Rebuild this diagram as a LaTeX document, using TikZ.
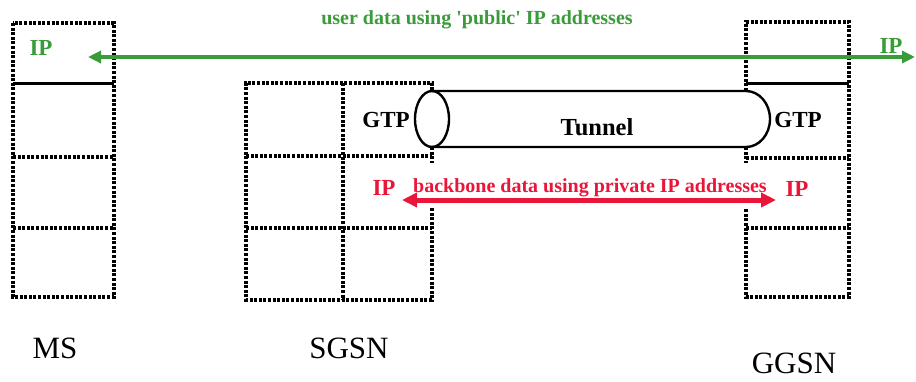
\documentclass[tikz,border=0pt]{standalone}
\usepackage{fontspec}
\setmainfont{Liberation Serif}
\usetikzlibrary{arrows.meta}
\definecolor{userGreen}{RGB}{58,155,58}
\definecolor{bbRed}{RGB}{234,22,58}

\begin{document}
\begin{tikzpicture}[
  x=1pt, y=-1pt,
  dotbox/.style={line width=3.2pt, dash pattern=on 3pt off 1.6pt},
  solidsep/.style={line width=3pt},
  tunnelline/.style={line width=2.4pt},
  lbl/.style={inner sep=0pt, anchor=base},
  entity/.style={lbl, font=\fontsize{31}{36}\selectfont},
  smallbold/.style={lbl, font=\fontsize{20}{24}\selectfont\bfseries},
  layerbold/.style={lbl, font=\fontsize{23}{27}\selectfont\bfseries}
]
  \useasboundingbox (0,0) rectangle (916,381);

  % MS stack
  \draw[dotbox] (13,23) rectangle (114,297);
  \draw[solidsep] (13,83) -- (114,83);
  \draw[dotbox] (13,157) -- (114,157);
  \draw[dotbox] (13,228) -- (114,228);

  % SGSN stack
  \draw[dotbox] (432,208) -- (432,300) -- (246,300) -- (246,83) -- (432,83) -- (432,91);
  \draw[dotbox] (432,147) -- (432,163);
  \draw[dotbox] (343,83) -- (343,300);
  \draw[dotbox] (246,156) -- (432,156);
  \draw[dotbox] (246,228) -- (432,228);

  % GGSN stack
  \draw[dotbox] (746,91) -- (746,22) -- (849,22) -- (849,297) -- (746,297) -- (746,208);
  \draw[dotbox] (746,147) -- (746,163);
  \draw[solidsep] (746,83) -- (849,83);
  \draw[dotbox] (746,158) -- (849,158);
  \draw[dotbox] (746,228) -- (849,228);

  % GTP tunnel
  \draw[tunnelline, fill=white] (432,119) ellipse (17 and 28);
  \draw[tunnelline] (432,91) -- (746,91) arc (-90:90:24 and 28) -- (432,147);

  % end points of the two flows
  \coordinate (userL) at (88,57);
  \coordinate (userR) at (915,57);
  \coordinate (bbL) at (402,200);
  \coordinate (bbR) at (776,200);

  % user data (green)
  \draw[userGreen, line width=3.6pt,
    {Triangle[length=13pt,width=12pt]}-{Triangle[length=13pt,width=12pt]}] (userL) -- (userR);
  \node[smallbold, userGreen] (usertxt) at (477,24)
    {user data using \textquotesingle public\textquotesingle\ IP addresses};
  \node[layerbold, userGreen] (ipMS) at (41,55) {IP};
  \node[layerbold, userGreen] (ipGGSN) at (891,53) {IP};

  % backbone data (red)
  \draw[bbRed, line width=5pt,
    {Triangle[length=15pt,width=14pt]}-{Triangle[length=15pt,width=14pt]}] (bbL) -- (bbR);
  \node[smallbold, bbRed] (bbtxt) at (590,192) {backbone data using private IP addresses};
  \node[layerbold, bbRed] (ipSGSNbb) at (384,195) {IP};
  \node[layerbold, bbRed] (ipGGSNbb) at (797,196) {IP};

  % tunnel labels
  \node[layerbold] (gtpS) at (386,127) {GTP};
  \node[layerbold] (gtpG) at (798,127) {GTP};
  \node[lbl, font=\fontsize{24.5}{29}\selectfont\bfseries] (tunnel) at (597,135) {Tunnel};

  % entity names
  \node[entity] (ms) at (55,358) {MS};
  \node[entity] (sgsn) at (349,358) {SGSN};
  \node[entity] (ggsn) at (794,373) {GGSN};

\end{tikzpicture}
\end{document}
